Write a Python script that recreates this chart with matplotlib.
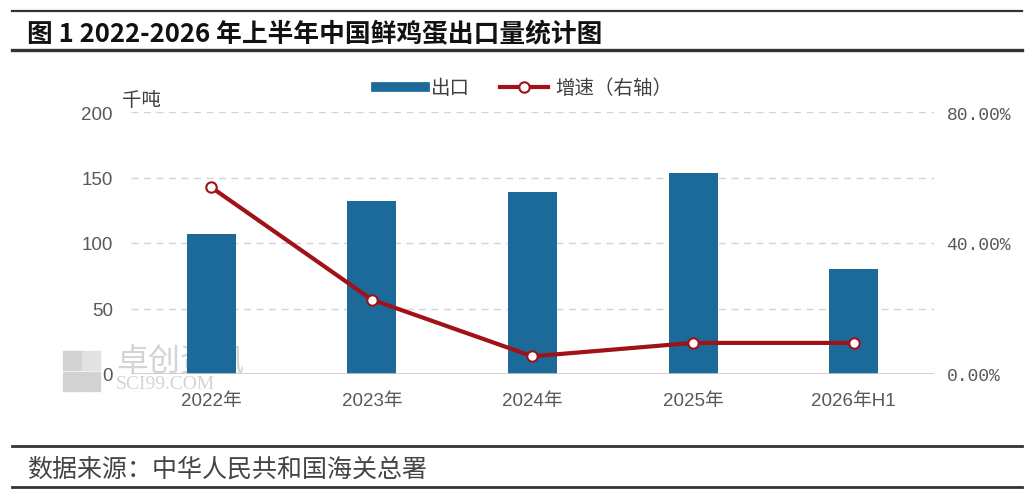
import matplotlib
matplotlib.use("Agg")
import matplotlib.pyplot as plt
from matplotlib.lines import Line2D
from matplotlib.patches import Rectangle
from matplotlib.ticker import FuncFormatter

categories = ["2022年", "2023年", "2024年", "2025年", "2026年H1"]
exports = [107, 132, 139, 153.5, 80]          # 千吨
growth = [57.0, 22.7, 5.4, 9.5, 9.5]          # %
left_ticks = [0, 50, 100, 150, 200]
right_ticks = [0, 40, 80]

title = "图 1 2022-2026 年上半年中国鲜鸡蛋出口量统计图"
source = "数据来源：中华人民共和国海关总署"
unit = "千吨"
legend_labels = ["出口", "增速（右轴）"]

BLUE = "#1b6a9a"
RED = "#a01217"
GRAY = "#595959"
CJK = ["Noto Sans CJK SC", "DejaVu Sans"]
LAT = ["Liberation Sans", "Noto Sans CJK SC"]

plt.rcParams["font.family"] = CJK

W, H = 1032, 502
fig = plt.figure(figsize=(W / 100, H / 100), dpi=100)
fig.patch.set_facecolor("white")

def fx(px):
    return px / W

def fy(py):
    return 1 - py / H

ax = fig.add_axes([fx(131), fy(375), fx(934) - fx(131), fy(113) - fy(375)])
ax2 = ax.twinx()

x = list(range(len(categories)))
ax.bar(x, exports, width=0.305, color=BLUE, zorder=3)
ax.set_xlim(-0.5, len(categories) - 0.5)
ax.set_ylim(0, 200)
ax.set_yticks(left_ticks)
ax.set_xticks(x)
ax.set_xticklabels(categories, family=LAT, fontsize=13.5, color=GRAY)
for v in left_ticks[1:]:
    ax.axhline(v, color="#d4d4d4", lw=1.0, ls=(0, (5, 4)), zorder=1)
ax.axhline(0, color="#c8c8c8", lw=1.2, zorder=4)
ax.tick_params(axis="x", length=0, pad=13)
ax.tick_params(axis="y", length=0, pad=13, labelcolor=GRAY, labelsize=13.5)
for lab in ax.get_yticklabels():
    lab.set_family(LAT)
for s in ax.spines.values():
    s.set_visible(False)

ax2.plot(x, growth, color=RED, lw=3.0, marker="o", markersize=7.5,
         markerfacecolor="white", markeredgecolor=RED, markeredgewidth=1.5,
         zorder=5, solid_joinstyle="round")
ax2.set_ylim(0, 80)
ax2.set_yticks(right_ticks)
ax2.yaxis.set_major_formatter(FuncFormatter(lambda v, p: f"{v:.2f}%"))
ax2.tick_params(axis="y", length=0, pad=9, labelcolor=GRAY, labelsize=13)
for lab in ax2.get_yticklabels():
    lab.set_family(["Liberation Mono", "DejaVu Sans Mono"])
for s in ax2.spines.values():
    s.set_visible(False)
ax.set_zorder(1)
ax2.set_zorder(2)
ax.patch.set_visible(False)

# unit label
fig.text(fx(122), fy(100), unit, fontsize=14, color="#404040", va="center", ha="left")

# legend
h_bar = Line2D([], [], color=BLUE, lw=7)
h_line = Line2D([], [], color=RED, lw=3.0, marker="o", markersize=7.5,
                markerfacecolor="white", markeredgecolor=RED, markeredgewidth=1.5)
fig.legend([h_bar, h_line], legend_labels, loc="center", bbox_to_anchor=(fx(524), fy(89)),
           ncol=2, frameon=False, fontsize=14, handlelength=2.5, handletextpad=0.35,
           columnspacing=1.5, labelcolor="#404040")

# title and rules
fig.text(fx(27), fy(35), title, fontsize=18.5, fontweight="bold", color="#111111",
         va="center", ha="left")
for py, lw in [(12, 1.6), (51, 2.4), (447, 2.0), (488, 2.0)]:
    fig.add_artist(Line2D([fx(12), fx(1022)], [fy(py), fy(py)], color="#333333", lw=lw))
fig.text(fx(27), fy(470), source, fontsize=18, color="#444444", va="center", ha="left")

# watermark (drawn beneath the plot)
for (px, py, c) in [(63, 352, "#d2d2d2"), (82, 352, "#e2e2e2"), (63, 373, "#d2d2d2"), (82, 373, "#d2d2d2")]:
    fig.add_artist(Rectangle((fx(px), fy(py + 19)), fx(18), fy(0) - fy(19),
                             color=c, zorder=0))
fig.text(fx(116), fy(362), "卓创资讯", fontsize=23, color="#d4d4d4", va="center",
         ha="left", zorder=0)
fig.text(fx(116), fy(385), "SCI99.COM", fontsize=14, color="#d4d4d4", va="center",
         ha="left", family=["Liberation Serif"], zorder=0)

fig.savefig("out.png", dpi=100, facecolor="white")
